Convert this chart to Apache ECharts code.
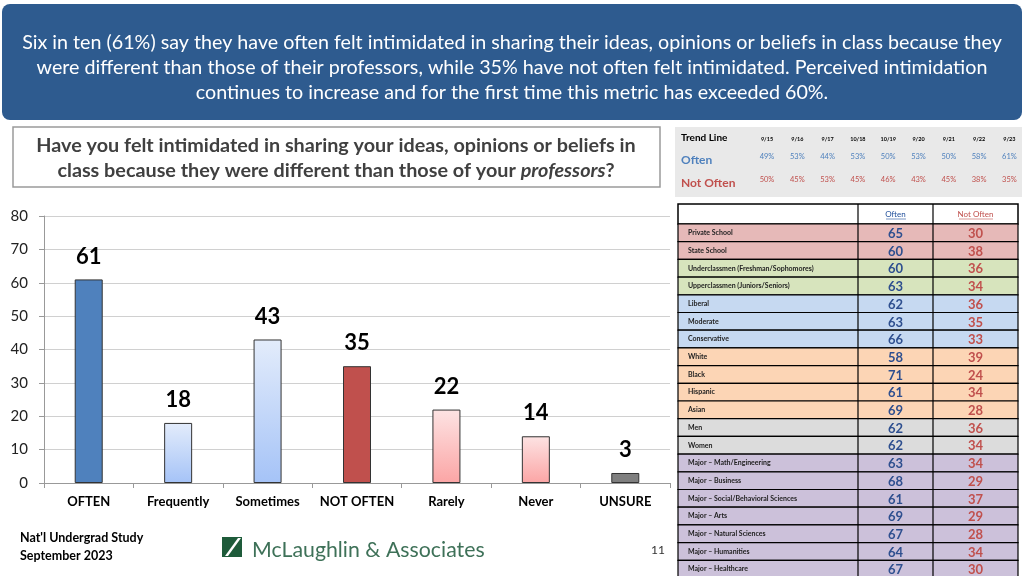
<!DOCTYPE html>
<html><head><meta charset="utf-8">
<script src="https://cdn.jsdelivr.net/npm/echarts@6/dist/echarts.min.js"></script>
<style>html,body{margin:0;padding:0;background:#fff}#c{width:1024px;height:576px}</style>
</head><body><div id="c"></div>
<script>
const categories = ['OFTEN','Frequently','Sometimes','NOT OFTEN','Rarely','Never','UNSURE'];
const values = [61,18,43,35,22,14,3];
const trendDates = ['9/15','9/16','9/17','10/18','10/19','9/20','9/21','9/22','9/23'];
const trendOften = [49,53,44,53,50,53,50,58,61];
const trendNotOften = [50,45,53,45,46,43,45,38,35];
const groups = ['Private School','State School','Underclassmen (Freshman/Sophomores)','Upperclassmen (Juniors/Seniors)','Liberal','Moderate','Conservative','White','Black','Hispanic','Asian','Men','Women','Major – Math/Engineering','Major – Business','Major – Social/Behavioral Sciences','Major – Arts','Major – Natural Sciences','Major – Humanities','Major – Healthcare'];
const groupOften = [65,60,60,63,62,63,66,58,71,61,69,62,62,63,68,61,69,67,64,67];
const groupNotOften = [30,38,36,34,36,35,33,39,24,34,28,36,34,34,29,37,29,28,34,30];
const rowColors = ['#e6b9b8','#e6b9b8','#d7e4bd','#d7e4bd','#c6d9f1','#c6d9f1','#c6d9f1','#fcd5b5','#fcd5b5','#fcd5b5','#fcd5b5','#dcdcdc','#dcdcdc','#ccc1da','#ccc1da','#ccc1da','#ccc1da','#ccc1da','#ccc1da','#ccc1da'];

const F = 'Lato, "Open Sans", sans-serif';
function grad(a,b){return new echarts.graphic.LinearGradient(0,0,0,1,[{offset:0,color:a},{offset:1,color:b}]);}
const barColors = ['#4f81bd',grad('#e3ecfb','#a5c3f7'),grad('#e3ecfb','#a5c3f7'),'#c0504d',grad('#fde3e3','#fba5a5'),grad('#fde3e3','#fba5a5'),'#7f7f7f'];

const g = [];
g.push({type:'rect',shape:{x:2,y:4,width:1020,height:116,r:8},style:{fill:'#2e5b8f'}});
['Six in ten (61%) say they have often felt intimidated in sharing their ideas, opinions or beliefs in class because they',
 'were different than those of their professors, while 35% have not often felt intimidated. Perceived intimidation',
 'continues to increase and for the first time this metric has exceeded 60%.'].forEach((t,i)=>{
  g.push({type:'text',style:{text:t,x:512,y:43+i*25,align:'center',verticalAlign:'middle',fill:'#fff',font:'19.7px '+F}});
});
g.push({type:'rect',shape:{x:13,y:127,width:647,height:60},style:{fill:'#fff',stroke:'#9a9a9a',lineWidth:1.5}});
g.push({type:'text',style:{text:'Have you felt intimidated in sharing your ideas, opinions or beliefs in',x:336,y:146,align:'center',verticalAlign:'middle',fill:'#404040',font:'bold 19.8px '+F}});
g.push({type:'text',style:{text:'{a|class because they were different than those of your }{b|professors}{a|?}',x:336,y:171,align:'center',verticalAlign:'middle',rich:{a:{fill:'#404040',font:'bold 19.8px '+F},b:{fill:'#404040',font:'italic bold 19.8px '+F}}}});
g.push({type:'rect',shape:{x:675,y:127,width:347,height:70},style:{fill:'#e9e9e9'}});
g.push({type:'text',style:{text:'Trend Line',x:681,y:138,verticalAlign:'middle',fill:'#000',font:'bold 10px '+F}});
g.push({type:'text',style:{text:'Often',x:681,y:160,verticalAlign:'middle',fill:'#4f81bd',font:'bold 12px '+F}});
g.push({type:'text',style:{text:'Not Often',x:681,y:183,verticalAlign:'middle',fill:'#c0504d',font:'bold 12px '+F}});
trendDates.forEach((d,i)=>{
  const x=767+i*30.3;
  g.push({type:'text',style:{text:d,x:x,y:139,align:'center',verticalAlign:'middle',fill:'#000',font:'bold 5.5px '+F}});
  g.push({type:'text',style:{text:trendOften[i]+'%',x:x,y:157,align:'center',verticalAlign:'middle',fill:'#4f81bd',font:'7.5px '+F}});
  g.push({type:'text',style:{text:trendNotOften[i]+'%',x:x,y:180,align:'center',verticalAlign:'middle',fill:'#c0504d',font:'7.5px '+F}});
});
const tx0=678,tx1=858,tx2=933,tx3=1018,ty0=204,hh=20,rh=17.7;
g.push({type:'rect',shape:{x:tx0,y:ty0,width:tx3-tx0,height:hh},style:{fill:'#fff',stroke:'#000',lineWidth:1.5}});
g.push({type:'text',style:{text:'Often',x:(tx1+tx2)/2,y:ty0+10,align:'center',verticalAlign:'middle',fill:'#1f4e9a',font:'8px '+F}});
g.push({type:'line',shape:{x1:886,y1:ty0+15,x2:906,y2:ty0+15},style:{stroke:'#1f4e9a',lineWidth:0.6}});
g.push({type:'text',style:{text:'Not Often',x:(tx2+tx3)/2,y:ty0+10,align:'center',verticalAlign:'middle',fill:'#c0504d',font:'8px '+F}});
g.push({type:'line',shape:{x1:959,y1:ty0+15,x2:993,y2:ty0+15},style:{stroke:'#c0504d',lineWidth:0.6}});
groups.forEach((n,i)=>{
  const y=ty0+hh+i*rh;
  g.push({type:'rect',shape:{x:tx0,y:y,width:tx3-tx0,height:rh},style:{fill:rowColors[i],stroke:'#000',lineWidth:1.2}});
  g.push({type:'text',style:{text:n,x:688,y:y+rh/2,verticalAlign:'middle',fill:'#222',font:'bold 7px '+F}});
  g.push({type:'text',style:{text:String(groupOften[i]),x:(tx1+tx2)/2,y:y+rh/2+1,align:'center',verticalAlign:'middle',fill:'#2e4f8f',font:'bold 13px '+F}});
  g.push({type:'text',style:{text:String(groupNotOften[i]),x:(tx2+tx3)/2,y:y+rh/2+1,align:'center',verticalAlign:'middle',fill:'#c0504d',font:'bold 13px '+F}});
});
g.push({type:'line',shape:{x1:tx1,y1:ty0,x2:tx1,y2:ty0+hh+20*rh},style:{stroke:'#000',lineWidth:1.2}});
g.push({type:'line',shape:{x1:tx2,y1:ty0,x2:tx2,y2:ty0+hh+20*rh},style:{stroke:'#000',lineWidth:1.2}});
g.push({type:'text',style:{text:"Nat'l Undergrad Study",x:20,y:538,verticalAlign:'middle',fill:'#000',font:'bold 12.5px '+F}});
g.push({type:'text',style:{text:'September 2023',x:20,y:556,verticalAlign:'middle',fill:'#000',font:'bold 12.5px '+F}});
g.push({type:'rect',shape:{x:222,y:537,width:20,height:20},style:{fill:'#1e5b3a'}});
g.push({type:'polygon',shape:{points:[[225,556],[238,538],[241,538],[228,556]]},style:{fill:'#fff'}});
g.push({type:'text',style:{text:'McLaughlin & Associates',x:252,y:550,verticalAlign:'middle',fill:'#3e7158',font:'21.3px "Liberation Sans Narrow", '+F}});
g.push({type:'text',style:{text:'11',x:651,y:550,verticalAlign:'middle',fill:'#333',font:'12px '+F}});

const chart = echarts.init(document.getElementById('c'));
chart.setOption({
  animation:false,
  grid:{left:44,top:216,width:626,height:267},
  xAxis:{type:'category',data:categories,axisLine:{lineStyle:{color:'#999'}},axisTick:{show:true,lineStyle:{color:'#999'}},
    axisLabel:{interval:0,color:'#000',fontFamily:'Lato',fontWeight:'bold',fontSize:13,margin:12}},
  yAxis:{type:'value',min:0,max:80,interval:10,axisLine:{show:true,lineStyle:{color:'#999'}},axisTick:{show:true,lineStyle:{color:'#999'}},
    splitLine:{lineStyle:{color:'#d0d0d0'}},axisLabel:{color:'#222',fontFamily:'Lato',fontSize:15,margin:16}},
  series:[{type:'bar',barWidth:28,data:values.map((v,i)=>({value:v,itemStyle:{color:barColors[i],borderColor:'#333',borderWidth:1}})),
    label:{show:true,position:'top',distance:12,color:'#000',fontFamily:'Lato',fontWeight:'bold',fontSize:22}}],
  graphic:g
});
</script></body></html>
